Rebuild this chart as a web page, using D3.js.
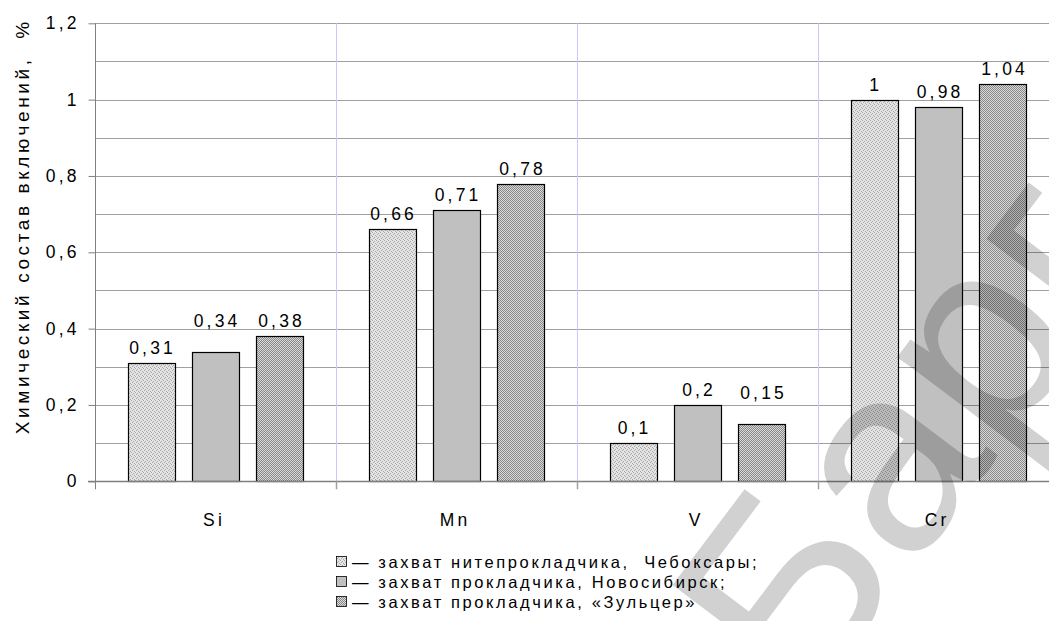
<!DOCTYPE html>
<html>
<head>
<meta charset="utf-8">
<script src="https://cdn.jsdelivr.net/npm/d3@7/dist/d3.min.js"></script>
<style>
  html, body { margin: 0; padding: 0; background: #fff; }
  svg { display: block; font-family: "Liberation Sans", Arial, sans-serif; }
</style>
</head>
<body>
<svg id="chart" width="1049" height="621"></svg>
<script>
// Elements and measured content per specimen
const categories = ["Si", "Mn", "V", "Cr"];
const seriesNames = [
  "— захват нитепрокладчика,  Чебоксары;",
  "— захват прокладчика, Новосибирск;",
  "— захват прокладчика, «Зульцер»"
];
const chebValues = [0.31, 0.66, 0.10, 1.00];
const novValues  = [0.34, 0.71, 0.20, 0.98];
const sulzValues = [0.38, 0.78, 0.15, 1.04];
const yTicks = [0, 0.2, 0.4, 0.6, 0.8, 1, 1.2];
const yTitle = "Химический состав включений,  %";

const seriesValues = [chebValues, novValues, sulzValues];
const fmt = v => String(+v.toFixed(2)).replace(".", ",");

const svg = d3.select("#chart");
const margin = { left: 95, top: 23.3, bottom: 481.3 };
const plotRight = 1059;
const LS = 3.2;            // letter spacing used by the chart texts

// Fill patterns for the three series
const defs = svg.append("defs");
const p1 = defs.append("pattern").attr("id", "fill0").attr("patternUnits", "userSpaceOnUse")
  .attr("width", 4).attr("height", 4);
p1.append("rect").attr("width", 4).attr("height", 4).attr("fill", "#e4e4e4");
[[0,0],[2,1],[1,2],[3,3]].forEach(([x,y]) =>
  p1.append("rect").attr("x", x).attr("y", y).attr("width", 1).attr("height", 1).attr("fill", "#a8a8a8"));

const p2 = defs.append("pattern").attr("id", "fill1").attr("patternUnits", "userSpaceOnUse")
  .attr("width", 2).attr("height", 2);
p2.append("rect").attr("width", 2).attr("height", 2).attr("fill", "#c0c0c0");

const p3 = defs.append("pattern").attr("id", "fill2").attr("patternUnits", "userSpaceOnUse")
  .attr("width", 2).attr("height", 2);
p3.append("rect").attr("width", 2).attr("height", 2).attr("fill", "#dcdcdc");
p3.append("rect").attr("x", 0).attr("y", 0).attr("width", 1).attr("height", 1).attr("fill", "#868686");
p3.append("rect").attr("x", 1).attr("y", 1).attr("width", 1).attr("height", 1).attr("fill", "#868686");

// Scales
const x0 = d3.scaleBand().domain(categories).range([margin.left, plotRight]).paddingInner(0).paddingOuter(0);
const groupPad = 32.5;
const x1 = d3.scaleBand().domain(d3.range(3)).range([groupPad, x0.bandwidth() - groupPad]).paddingInner(0.271).paddingOuter(0);
const y = d3.scaleLinear().domain([0, 1.2]).range([margin.bottom, margin.top]);

// Horizontal gridlines every 0.1
const gridVals = d3.range(1, 13).map(i => i / 10);
svg.append("g").selectAll("line").data(gridVals).join("line")
  .attr("x1", margin.left).attr("x2", plotRight)
  .attr("y1", d => Math.round(y(d)) + 0.5).attr("y2", d => Math.round(y(d)) + 0.5)
  .attr("stroke", "#a0a0a0").attr("stroke-width", 1);

// Vertical gridlines at category boundaries
svg.append("g").selectAll("line").data(categories.slice(1)).join("line")
  .attr("x1", d => Math.round(x0(d)) + 0.5).attr("x2", d => Math.round(x0(d)) + 0.5)
  .attr("y1", margin.top).attr("y2", margin.bottom)
  .attr("stroke", "#c8c8ff").attr("stroke-width", 1);

// Bars
const groups = svg.append("g").selectAll("g").data(categories).join("g")
  .attr("transform", d => `translate(${x0(d)},0)`);
const cells = (c, ci) => seriesValues.map((s, si) => ({ si, v: s[ci] }));
groups.selectAll("rect").data(cells).join("rect")
  .attr("x", d => Math.round(x1(d.si)) + 0.5)
  .attr("y", d => Math.round(y(d.v)) + 0.5)
  .attr("width", Math.round(x1.bandwidth()))
  .attr("height", d => Math.round(y(0)) - Math.round(y(d.v)))
  .attr("fill", d => `url(#fill${d.si})`)
  .attr("stroke", "#000").attr("stroke-width", 1.2);

// Value labels; two of them sit higher to clear their neighbours
const raisedLabels = new Set(["Si|1", "V|2"]);
groups.each(function (c) {
  d3.select(this).selectAll("text").data(cells(c, categories.indexOf(c))).join("text")
    .attr("x", d => x1(d.si) + x1.bandwidth() / 2)
    .attr("dx", LS / 2)
    .attr("y", d => y(d.v) - 9 - (raisedLabels.has(`${c}|${d.si}`) ? 16 : 0))
    .attr("text-anchor", "middle")
    .attr("font-size", 17.5).attr("letter-spacing", LS).attr("fill", "#000")
    .text(d => fmt(d.v));
});

// Y axis
const yAxis = d3.axisLeft(y).tickValues(yTicks).tickSize(7).tickPadding(12).tickFormat(fmt);
const gy = svg.append("g").attr("transform", `translate(${margin.left + 0.5},0)`).call(yAxis);
gy.select(".domain").attr("stroke", "#808080").attr("d", `M0,${margin.top}V${margin.bottom + 8}`);
gy.selectAll(".tick line").attr("stroke", "#808080");
gy.selectAll(".tick text").attr("font-size", 17.5).attr("font-family", "Liberation Sans, Arial, sans-serif")
  .attr("letter-spacing", LS).attr("dx", LS).attr("fill", "#000");

// X axis baseline and boundary ticks
const gx = svg.append("g");
gx.append("line").attr("x1", margin.left - 7).attr("x2", plotRight)
  .attr("y1", Math.round(y(0)) + 0.5).attr("y2", Math.round(y(0)) + 0.5)
  .attr("stroke", "#808080").attr("stroke-width", 1.5);
gx.selectAll("line.b").data(categories.slice(1)).join("line").attr("class", "b")
  .attr("x1", d => Math.round(x0(d)) + 0.5).attr("x2", d => Math.round(x0(d)) + 0.5)
  .attr("y1", y(0)).attr("y2", y(0) + 8)
  .attr("stroke", "#a0a0a0").attr("stroke-width", 1.5);
gx.selectAll("text").data(categories).join("text")
  .attr("x", d => x0(d) + x0.bandwidth() / 2 - 3)
  .attr("dx", LS / 2)
  .attr("y", 526)
  .attr("text-anchor", "middle").attr("font-size", 17.5).attr("letter-spacing", LS).attr("fill", "#000")
  .text(d => d);

// Y axis title
svg.append("text")
  .attr("transform", "translate(29,228) rotate(-90)")
  .attr("text-anchor", "middle").attr("font-size", 19).attr("letter-spacing", 3.6).attr("dx", 1.8)
  .attr("fill", "#000")
  .style("white-space", "pre")
  .text(yTitle);

// Legend
const legend = svg.append("g").attr("transform", "translate(336,556)");
const lg = legend.selectAll("g").data(seriesNames).join("g")
  .attr("transform", (d, i) => `translate(0,${i * 20})`);
lg.append("rect").attr("x", 0.5).attr("y", 0.5).attr("width", 10).attr("height", 10)
  .attr("fill", (d, i) => `url(#fill${i})`).attr("stroke", "#000").attr("stroke-width", 0.8);
lg.append("text").attr("x", 16).attr("y", 12).attr("font-size", 16.5).attr("letter-spacing", 2.6)
  .attr("fill", "#000")
  .style("white-space", "pre").text(d => d);

// Watermark
svg.append("text")
  .attr("transform", "translate(805,712) rotate(-53)")
  .attr("font-size", 265).attr("fill", "#000").attr("fill-opacity", 0.18)
  .text("Барг");
</script>
</body>
</html>
